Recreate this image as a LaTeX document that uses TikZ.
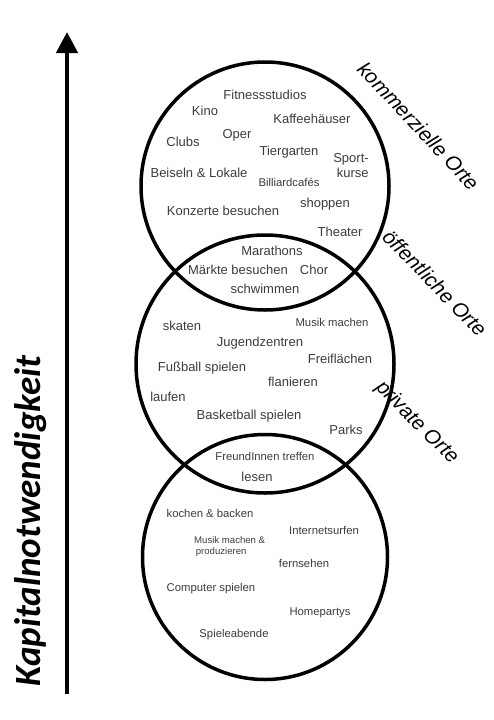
\documentclass[tikz,border=0pt]{standalone}
\usepackage{fontspec}
\setmainfont{Liberation Sans}
\newfontfamily\carlito{Carlito}
\usetikzlibrary{arrows.meta}
\definecolor{itemgray}{RGB}{60,60,60}

\tikzset{
  ring/.style={circle,draw,line width=3.5pt,inner sep=0pt},
  item/.style={text=itemgray,inner sep=1pt,font=\fontsize{13}{15}\selectfont},
  smallitem/.style={item,font=\fontsize{11.3}{13.5}\selectfont},
  tinyitem/.style={item,font=\fontsize{9.6}{11}\selectfont},
  ortlabel/.style={font=\fontsize{20.5}{24}\selectfont\itshape,inner sep=0pt}
}

\begin{document}
\begin{tikzpicture}[x=1pt,y=-1pt]
\useasboundingbox (0,0) rectangle (494,720);

% ============ axis ============
\coordinate (axbot) at (67,694);
\coordinate (axtop) at (67,32);
\draw[line width=4.5pt,-{Triangle[length=21pt,width=21pt]}] (axbot) -- (axtop);
\node[font=\fontsize{37}{40}\selectfont\carlito\bfseries\itshape,rotate=90,inner sep=0pt] (kapital) at (31,521) {Kapitalnotwendigkeit};

% ============ circles ============
\node[ring,minimum size=248pt] (kommerz) at (265,186) {};
\node[ring,minimum size=258pt] (oeffentl) at (265,364) {};
\node[ring,minimum size=245pt] (privat) at (265,557) {};

\node[ortlabel,rotate=-47] (kommerzlabel) at (419,126) {kommerzielle Orte};
\node[ortlabel,rotate=-46] (oeffentllabel) at (435,283) {öffentliche Orte};
\node[ortlabel,rotate=-45] (privatlabel) at (417,423) {private Orte};

% ============ kommerzielle Orte ============
\node[item] (fitness) at (265,95) {Fitnessstudios};
\node[item] (kino) at (205,111) {Kino};
\node[item] (kaffee) at (312,119) {Kaffeehäuser};
\node[item] (clubs) at (183,142) {Clubs};
\node[item] (oper) at (237,135) {Oper};
\node[item] (tiergarten) at (289,152) {Tiergarten};
\node[item,align=right] (sport) at (351,166) {Sport-\\kurse};
\node[item] (beiseln) at (199,173) {Beiseln \& Lokale};
\node[smallitem] (billiard) at (289,182) {Billiardcafés};
\node[item] (konzerte) at (223,211) {Konzerte besuchen};
\node[item] (shoppen) at (325,204) {shoppen};
\node[item] (theater) at (340,232) {Theater};

% ============ kommerziell / öffentlich ============
\node[item] (marathons) at (272,251) {Marathons};
\node[item] (maerkte) at (238,270) {Märkte besuchen};
\node[item] (chor) at (314,270) {Chor};
\node[item] (schwimmen) at (265,289) {schwimmen};

% ============ öffentliche Orte ============
\node[item] (skaten) at (182,326) {skaten};
\node[smallitem] (musik) at (332,322) {Musik machen};
\node[item] (jugend) at (260,343) {Jugendzentren};
\node[item] (frei) at (340,359) {Freiflächen};
\node[item] (fussball) at (202,368) {Fußball spielen};
\node[item] (flanieren) at (293,382) {flanieren};
\node[item] (laufen) at (168,397) {laufen};
\node[item] (basket) at (249,416) {Basketball spielen};
\node[item] (parks) at (346,430) {Parks};

% ============ öffentlich / privat ============
\node[smallitem] (freunde) at (265,456) {FreundInnen treffen};
\node[item] (lesen) at (257,477) {lesen};

% ============ private Orte ============
\node[smallitem] (kochen) at (210,513) {kochen \& backen};
\node[smallitem] (internet) at (324,530) {Internetsurfen};
\node[tinyitem,align=left,anchor=west] (produz) at (193,547) {Musik machen \&\\\,produzieren};
\node[smallitem] (fernsehen) at (304,563) {fernsehen};
\node[smallitem] (computer) at (211,589) {Computer spielen};
\node[smallitem] (homeparty) at (320,613) {Homepartys};
\node[smallitem] (spieleabend) at (234,635) {Spieleabende};

\end{tikzpicture}
\end{document}
